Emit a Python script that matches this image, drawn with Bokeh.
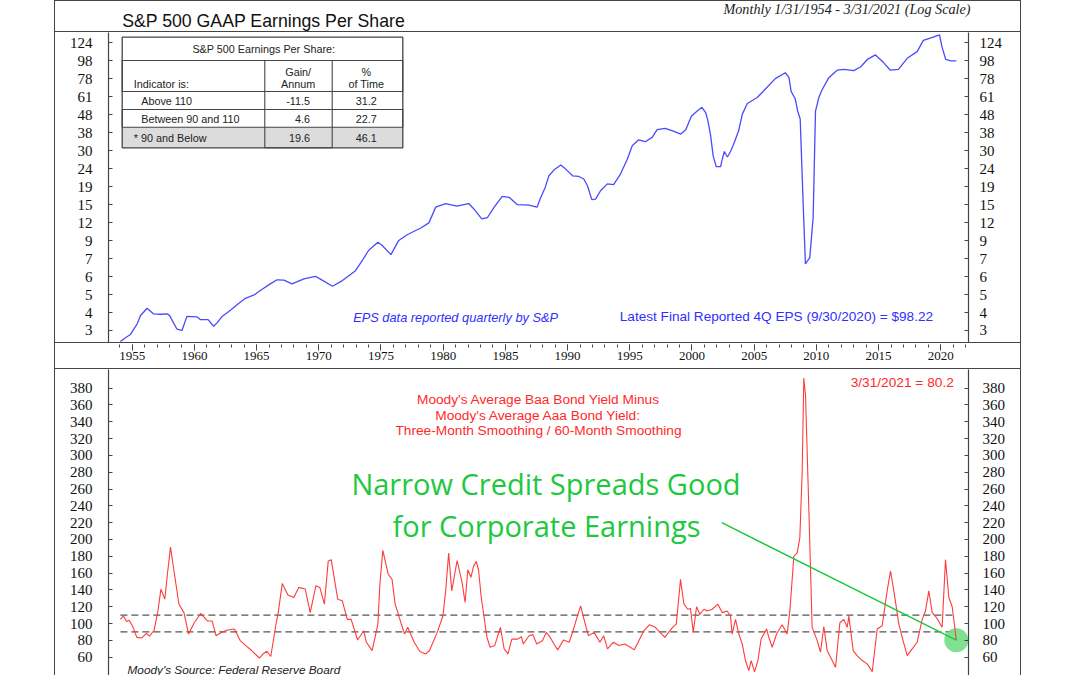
import math
from bokeh.plotting import figure
from bokeh.models import FixedTicker, LogAxis, LinearAxis, BoxAnnotation, Label, Range1d, Spacer
from bokeh.layouts import column, row
from bokeh.embed import file_html
from bokeh.resources import INLINE

# ---------------- data ----------------
eps_year = [1954.05, 1954.46, 1954.86, 1955.4, 1955.67, 1956.2, 1956.7, 1957.3, 1957.8, 1958.0,
            1958.6, 1959.0, 1959.4, 1960.2, 1960.5, 1961.1, 1961.55, 1961.8, 1962.2, 1962.9,
            1963.45, 1964.1, 1964.8, 1965.3, 1966.1, 1966.65, 1967.2, 1967.85, 1968.8, 1969.73,
            1970.1, 1971.1, 1971.9, 1972.95, 1973.5, 1974.0, 1974.75, 1975.1, 1975.8, 1976.4,
            1977.1, 1978.2, 1978.85, 1979.4, 1980.2, 1981.1, 1982.05, 1982.45, 1983.1, 1983.55,
            1984.1, 1984.75, 1985.3, 1985.95, 1986.9, 1987.55, 1987.8, 1988.2, 1988.5, 1988.9,
            1989.45, 1989.85, 1990.4, 1990.9, 1991.3, 1991.6, 1991.95, 1992.25, 1992.65, 1993.2,
            1993.7, 1994.25, 1994.8, 1995.2, 1995.7, 1996.25, 1996.8, 1997.2, 1997.85, 1998.55,
            1999.1, 1999.5, 1999.95, 2000.4, 2000.8, 2001.1, 2001.27, 2001.5, 2001.7, 2001.95,
            2002.3, 2002.4, 2002.6, 2002.85, 2003.1, 2003.35, 2003.75, 2004.05, 2004.45, 2005.25,
            2005.9, 2006.7, 2007.5, 2007.8, 2007.97, 2008.3, 2008.5, 2008.7, 2008.94, 2009.12,
            2009.47, 2009.74, 2009.93, 2010.2, 2010.45, 2011.0, 2011.67, 2012.2, 2013.0, 2013.55,
            2014.1, 2014.75, 2015.4, 2015.95, 2016.6, 2017.3, 2018.1, 2018.6, 2019.45, 2019.9,
            2020.1, 2020.4, 2020.8, 2021.25]
eps_val = [2.6, 2.73, 2.85, 3.27, 3.64, 4.0, 3.72, 3.7, 3.72, 3.65,
           3.05, 3.0, 3.6, 3.58, 3.45, 3.45, 3.17, 3.3, 3.58, 3.9,
           4.2, 4.55, 4.75, 5.03, 5.48, 5.78, 5.75, 5.48, 5.85, 6.05,
           5.85, 5.32, 5.72, 6.5, 7.42, 8.44, 9.4, 9.0, 8.0, 9.57,
           10.35, 11.3, 12.07, 14.8, 15.5, 15.0, 15.5, 14.5, 12.7, 12.9,
           14.8, 17.0, 16.8, 15.3, 15.2, 14.8, 16.5, 19.1, 22.2, 23.9,
           25.5, 24.2, 22.2, 22.0, 21.3, 19.5, 16.3, 16.4, 18.3, 20.0,
           19.8, 22.7, 27.5, 32.7, 35.3, 34.5, 36.5, 40.3, 41.0, 39.4,
           38.1, 40.3, 48.0, 51.2, 53.8, 50.2, 45.6, 37.3, 28.8, 25.0,
           25.0, 26.9, 30.4, 28.3, 30.4, 33.4, 39.7, 49.3, 56.6, 61.1,
           68.2, 78.0, 84.2, 79.0, 66.1, 60.1, 51.2, 46.3, 15.4, 7.1,
           7.7, 12.9, 51.2, 61.1, 67.3, 79.0, 87.0, 88.0, 86.5, 90.7,
           100.0, 106.0, 96.0, 87.0, 88.0, 101.5, 110.6, 128.0, 134.0, 137.5,
           117.6, 100.0, 98.2, 98.22]

spread_year = [1954.05, 1954.3, 1954.54, 1954.76, 1955.07, 1955.37, 1955.77, 1956.14, 1956.39, 1956.76,
               1957.07, 1957.31, 1957.62, 1957.83, 1958.08, 1958.36, 1958.76, 1959.16, 1959.53, 1959.99,
               1960.51, 1961.06, 1961.43, 1961.74, 1962.14, 1962.6, 1963.22, 1963.68, 1964.14, 1964.6,
               1965.22, 1965.53, 1965.83, 1966.14, 1966.54, 1966.76, 1967.06, 1967.52, 1967.99, 1968.39,
               1968.91, 1969.31, 1969.77, 1970.08, 1970.45, 1970.76, 1971.0, 1971.52, 1971.89, 1972.29,
               1972.6, 1973.12, 1973.61, 1973.83, 1974.29, 1974.75, 1974.91, 1975.15, 1975.58, 1975.89,
               1976.14, 1976.6, 1976.9, 1977.15, 1977.67, 1978.13, 1978.6, 1978.9, 1979.52, 1979.98,
               1980.2, 1980.44, 1980.69, 1981.12, 1981.52, 1981.76, 1981.98, 1982.23, 1982.44, 1982.66,
               1982.84, 1983.06, 1983.52, 1983.77, 1984.14, 1984.6, 1984.9, 1985.21, 1985.52, 1985.98,
               1986.29, 1986.44, 1986.9, 1987.21, 1987.52, 1987.98, 1988.29, 1988.6, 1988.9, 1989.21,
               1989.67, 1990.13, 1990.44, 1990.75, 1991.05, 1991.36, 1991.67, 1992.13, 1992.6, 1992.9,
               1993.21, 1993.67, 1994.13, 1994.59, 1995.05, 1995.36, 1995.67, 1996.13, 1996.59, 1997.05,
               1997.82, 1998.44, 1998.74, 1999.08, 1999.35, 1999.67, 1999.88, 2000.1, 2000.37, 2000.63,
               2000.96, 2001.22, 2001.63, 2002.08, 2002.43, 2002.83, 2003.1, 2003.23, 2003.5, 2003.77,
               2004.04, 2004.3, 2004.57, 2004.76, 2005.03, 2005.3, 2005.56, 2006.0, 2006.18, 2006.45,
               2006.8, 2007.25, 2007.65, 2007.87, 2008.19, 2008.46, 2008.67, 2008.86, 2008.99, 2009.13,
               2009.4, 2009.66, 2010.07, 2010.33, 2010.6, 2010.87, 2011.27, 2011.54, 2011.89, 2012.21,
               2012.48, 2012.61, 2012.96, 2013.28, 2013.68, 2014.09, 2014.49, 2014.89, 2015.29, 2015.69,
               2015.96, 2016.23, 2016.63, 2016.9, 2017.3, 2017.7, 2018.1, 2018.51, 2018.77, 2019.04,
               2019.31, 2019.66, 2020.11, 2020.38, 2020.65, 2020.92, 2021.25]
spread_val = [105, 109, 102.5, 104, 95.5, 83.6, 82.9, 88.4, 85, 92,
              115, 141, 129, 158.6, 191, 162.5, 123, 113, 87.5, 101,
              112, 103, 103, 85.6, 89, 92, 93.5, 79.7, 73.8, 67.9,
              59, 64, 67, 60.8, 97.4, 115, 147.5, 134, 131, 143,
              141, 113, 145, 143, 123, 174.5, 176, 129, 127, 105,
              105, 80.4, 91.4, 77.7, 67.8, 99, 146.7, 187, 158.6, 152.6,
              123, 101, 87.6, 95.5, 77.7, 66.7, 63.9, 67.9, 89.5, 109,
              138.8, 184, 138.8, 175, 148.7, 125, 164, 155, 168, 174,
              164, 131, 83.6, 71.8, 73.8, 95.5, 69.8, 63.9, 81.5, 81.5,
              84.4, 75.7, 85.5, 86.8, 75.7, 79.6, 89.5, 83.6, 75.7, 68.7,
              80.5, 77.7, 91.4, 107, 121, 103, 85.6, 89.5, 77.7, 85.6,
              69.8, 77.7, 73.8, 75.7, 71.8, 68.7, 77.7, 91.4, 98.6, 95.5,
              83.6, 95.5, 99.4, 152.6, 123, 117, 118, 89.6, 120, 111,
              117, 115, 117, 123, 113, 115, 109, 87.5, 105, 87.5,
              75.7, 56, 44, 56, 42.6, 56, 81.7, 93.5, 83.6, 71.8,
              87.5, 98.6, 87.5, 115, 180, 184, 202, 281, 392, 371,
              233.5, 95.5, 79.7, 65.9, 96.3, 67.8, 56, 48, 101, 105,
              95.5, 109, 67.8, 61.9, 56, 52, 42.6, 93.5, 97.4, 138.8,
              162.5, 138.8, 99.4, 83.6, 61.9, 69.8, 77.7, 105, 115, 138.8,
              113, 107, 95.5, 176, 131, 120, 80.2]

eps_tick_labels = ["3", "4", "5", "6", "7", "9", "12", "15", "19", "24", "30",
                   "38", "48", "61", "78", "98", "124"]
spread_ticks = [60, 80, 100, 120, 140, 160, 180, 200, 220, 240, 260, 280, 300,
                320, 340, 360, 380]
year_ticks = [1955, 1960, 1965, 1970, 1975, 1980, 1985, 1990, 1995, 2000,
              2005, 2010, 2015, 2020]
year_minor = list(range(1953, 2023))
thresholds = [110, 90]

table_title = "S&P 500 Earnings Per Share:"
table_rows = ["Above 110", "Between 90 and 110", "* 90 and Below"]
table_gain = ["-11.5", "4.6", "19.6"]
table_time = ["31.2", "22.7", "46.1"]

latest_eps_text = "Latest Final Reported 4Q EPS (9/30/2020) = $98.22"
latest_spread_text = "3/31/2021 = 80.2"
arrow_start = (2002.4, 220.0)

# ---------------- layout constants ----------------
INNER_W = 965            # width between the two outer vertical rules (x 55..1019)
BL, BR = 53, 52          # borders around the 860px frames inside that width
FW = 860
LINE = "#444444"
BLUE = "#4a4aff"
RED = "#ff3b3b"
GREEN = "#20c840"
SERIF = "Liberation Serif"
SANS = "Liberation Sans"

r = (124 / 3) ** (1 / 16)
eps_ticks = [3 * r ** k for k in range(len(eps_tick_labels))]
eps_over = {t: lab for t, lab in zip(eps_ticks, eps_tick_labels)}

x_rng = Range1d(1953.095, 2022.23)


def rule(w, h):
    return Spacer(width=w, height=h, margin=0, styles={"background-color": LINE})


def style_y(ax, standoff):
    ax.major_tick_in = 4
    ax.major_tick_out = 0
    ax.minor_tick_line_color = None
    ax.axis_line_color = LINE
    ax.axis_line_width = 1.2
    ax.major_tick_line_color = LINE
    ax.major_label_text_font = SERIF
    ax.major_label_text_font_size = "15px"
    ax.major_label_text_color = "#111111"
    ax.major_label_standoff = standoff


def base_fig(fh, **kw):
    p = figure(frame_width=kw.pop("fw", FW), frame_height=fh,
               min_border_left=kw.pop("bl", BL), min_border_right=kw.pop("br", BR),
               min_border_top=0, min_border_bottom=kw.pop("bb", 0),
               toolbar_location=None, output_backend="svg", **kw)
    p.grid.visible = False
    p.outline_line_color = None
    p.background_fill_color = "white"
    p.border_fill_color = "white"
    return p


def cbox(p, org, l, rr, t, b, fill=None, line=LINE, lw=1.2):
    ox, oy = org
    p.add_layout(BoxAnnotation(left=l - ox, right=rr - ox, top=t - oy, bottom=b - oy,
                               left_units="canvas", right_units="canvas",
                               top_units="canvas", bottom_units="canvas",
                               fill_color=fill, fill_alpha=1.0,
                               line_color=line, line_alpha=1.0, line_width=lw))


def clabel(p, org, x, y, text, size, color="#222222", font=SANS,
           align="left", style="normal"):
    ox, oy = org
    p.add_layout(Label(x=x - ox, y=y - oy, x_units="canvas", y_units="canvas", text=text,
                       text_font=font, text_font_size=f"{size}px", text_color=color,
                       text_align=align, text_baseline="middle", text_font_style=style))


# ---------------- header ----------------
ph = base_fig(30, fw=INNER_W, bl=0, br=0, x_range=Range1d(0, 1), y_range=Range1d(0, 1),
              x_axis_location=None, y_axis_location=None)
H_ORG = (55, 1)
clabel(ph, H_ORG, 121.7, 20.5, "S&P 500 GAAP Earnings Per Share", 17.7, color="#111111")
clabel(ph, H_ORG, 970, 8.5, "Monthly 1/31/1954 - 3/31/2021 (Log Scale)", 14.2,
       color="#222222", font=SERIF, align="right", style="italic")

# ---------------- top panel ----------------
p1 = base_fig(310, y_axis_type="log", x_range=x_rng, y_range=Range1d(2.568, 141.7),
              x_axis_location=None)
P1_ORG = (55, 32)
ya = p1.yaxis[0]
ya.ticker = FixedTicker(ticks=eps_ticks)
ya.major_label_overrides = eps_over
style_y(ya, 16)
ya_r = LogAxis(ticker=FixedTicker(ticks=eps_ticks), major_label_overrides=eps_over)
style_y(ya_r, 11)
p1.add_layout(ya_r, "right")

p1.line(eps_year, eps_val, line_color=BLUE, line_width=1.3)

clabel(p1, P1_ORG, 352.7, 317, "EPS data reported quarterly by S&P", 12.8, color="#2f2fff", style="italic")
clabel(p1, P1_ORG, 619.3, 316, latest_eps_text, 13.6, color="#2f2fff")

# table
TL, TRR, TT, TB = 121.7, 402.3, 36.7, 147.3
C1, C2 = 264.3, 331.7
R1, R2, R3, R4 = 60, 91, 109, 126.7
cbox(p1, P1_ORG, TL, TRR, TT, TB, fill="white", line=None)
cbox(p1, P1_ORG, TL, TRR, R4, TB, fill="#dcdcdc", line=None)
cbox(p1, P1_ORG, TL, TRR, R1, R2, lw=1.1)
cbox(p1, P1_ORG, TL, TRR, R3, R4, lw=1.1)
cbox(p1, P1_ORG, C1, C2, R1, TB, lw=1.1)
cbox(p1, P1_ORG, TL, TRR, TT, TB, lw=1.3)
TS = 10.8
clabel(p1, P1_ORG, 263.3, 48.5, table_title, TS, align="center")
clabel(p1, P1_ORG, 133.3, 83.3, "Indicator is:", TS)
clabel(p1, P1_ORG, 297.7, 71.7, "Gain/", TS, align="center")
clabel(p1, P1_ORG, 297.7, 83.3, "Annum", TS, align="center")
clabel(p1, P1_ORG, 365.8, 71.7, "%", TS, align="center")
clabel(p1, P1_ORG, 365.8, 83.3, "of Time", TS, align="center")
row_y = [100.3, 118.0, 137.0]
row_x = [140.7, 140.7, 133.3]
for i in range(3):
    clabel(p1, P1_ORG, row_x[i], row_y[i], table_rows[i], TS)
    clabel(p1, P1_ORG, 309.5, row_y[i], table_gain[i], TS, align="right")
    clabel(p1, P1_ORG, 365.8, row_y[i], table_time[i], TS, align="center")

# ---------------- year band (x axis of the top panel) ----------------
pb = base_fig(1, bb=24, x_range=x_rng, y_range=Range1d(0, 1), y_axis_location=None)
xa = pb.xaxis[0]
xa.ticker = FixedTicker(ticks=year_ticks, minor_ticks=year_minor)
xa.major_tick_out = 6
xa.major_tick_in = 0
xa.minor_tick_out = 3
xa.minor_tick_in = 0
xa.axis_line_color = None
xa.major_tick_line_color = LINE
xa.minor_tick_line_color = LINE
xa.major_label_text_font = SERIF
xa.major_label_text_font_size = "13px"
xa.major_label_text_color = "#111111"
xa.major_label_standoff = 1

# ---------------- bottom panel ----------------
p2 = base_fig(306, x_range=x_rng, y_range=Range1d(38.2, 402.2), x_axis_location=None)
P2_ORG = (55, 369)
yb = p2.yaxis[0]
yb.ticker = FixedTicker(ticks=spread_ticks)
style_y(yb, 16)
yb_r = LinearAxis(ticker=FixedTicker(ticks=spread_ticks))
style_y(yb_r, 14)
p2.add_layout(yb_r, "right")

for th in thresholds:
    p2.segment(x0=[spread_year[0]], y0=[th], x1=[spread_year[-1]], y1=[th],
               line_color="#555555", line_width=1.2, line_dash="7 4")

p2.scatter([spread_year[-1]], [spread_val[-1]], size=24, fill_color="#74dd88",
           fill_alpha=0.9, line_color=None)
p2.line(spread_year, spread_val, line_color=RED, line_width=1.1)
p2.segment(x0=[arrow_start[0]], y0=[arrow_start[1]], x1=[spread_year[-1]], y1=[spread_val[-1]],
           line_color=GREEN, line_width=1.5)

clabel(p2, P2_ORG, 538, 399.3, "Moody's Average Baa Bond Yield Minus", 13.7, color="#ff2a2a", align="center")
clabel(p2, P2_ORG, 538, 414.8, "Moody's Average Aaa Bond Yield:", 13.7, color="#ff2a2a", align="center")
clabel(p2, P2_ORG, 538, 430.3, "Three-Month Smoothing / 60-Month Smoothing", 13.7, color="#ff2a2a", align="center")
clabel(p2, P2_ORG, 953.3, 381.7, latest_spread_text, 13.7, color="#ff2a2a", align="right")
clabel(p2, P2_ORG, 545.5, 483.3, "Narrow Credit Spreads Good", 29, color=GREEN, font="Open Sans", align="center")
clabel(p2, P2_ORG, 546, 525, "for Corporate Earnings", 29, color=GREEN, font="Open Sans", align="center")
clabel(p2, P2_ORG, 127, 669, "Moody's Source: Federal Reserve Board", 11.8, color="#222222", style="italic")

# ---------------- assemble ----------------
inner = column(rule(INNER_W, 1), ph, rule(INNER_W, 1), p1, rule(INNER_W, 1), pb,
               rule(INNER_W, 1), p2, spacing=0)
layout = row(Spacer(width=54, height=675, margin=0), rule(1, 675), inner, rule(1, 675),
             Spacer(width=59, height=675, margin=0), spacing=0)

open("out.html", "w").write(file_html(layout, INLINE))
